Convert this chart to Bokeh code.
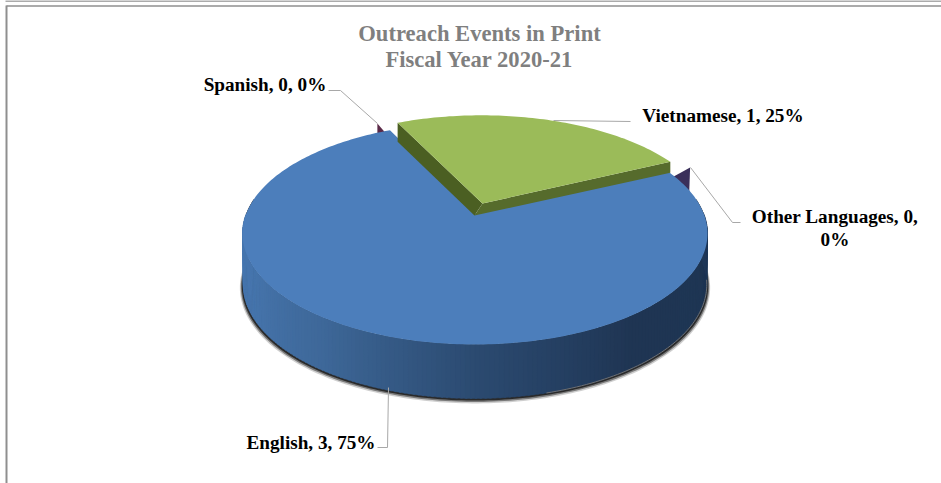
import numpy as np
from bokeh.core.properties import value
from bokeh.embed import file_html
from bokeh.models import Range1d
from bokeh.plotting import figure
from bokeh.resources import INLINE

# Chart content
title_lines = ["Outreach Events in Print", "Fiscal Year 2020-21"]
categories = ["English", "Spanish", "Vietnamese", "Other Languages"]
counts = [3, 0, 1, 0]

# Pie geometry: a disc in perspective, with top and bottom rims
CX = 474.5
TOP = dict(a=228.7, b=107.4, y0=213.0)
BOTTOM = dict(a=228.0, b=110.3, y0=263.5)
TILT = 0.18
START_DEG = 25.6    # the Vietnamese slice starts here, measured counter-clockwise
EXPLODE = 0.10
GREEN_R = 1.0

BLUE_TOP = "#4c7ebb"
GREEN_TOP = "#9bbb59"
FONT = value("Liberation Serif")


def project(u, v, rim=TOP):
    w = 1 + TILT * np.asarray(v)
    return CX + rim["a"] * np.asarray(u) / w, rim["y0"] - rim["b"] * np.asarray(v) / w


def polar(theta_deg, r=1.0, du=0.0, dv=0.0):
    t = np.radians(theta_deg)
    return du + r * np.cos(t), dv + r * np.sin(t)


def mix(c1, c2, f):
    a = [int(c1[i:i + 2], 16) for i in (1, 3, 5)]
    b = [int(c2[i:i + 2], 16) for i in (1, 3, 5)]
    return "#%02x%02x%02x" % tuple(round(x + (y - x) * f) for x, y in zip(a, b))


total = sum(counts)
share_deg = [c / total * 360 for c in counts]
percent = [round(c / total * 100) for c in counts]
labels = [f"{n}, {c}, {s}%" for n, c, s in zip(categories, counts, percent)]

# Slice angles follow the data: Vietnamese runs counter-clockwise from START_DEG
green_start = START_DEG
green_end = START_DEG + share_deg[2]
blue_start = green_end
blue_end = blue_start + share_deg[0]

p = figure(width=941, height=483, output_backend="svg", toolbar_location=None,
           x_range=Range1d(0, 941), y_range=Range1d(483, 0),
           min_border=0, outline_line_color=None, background_fill_color="white")
p.axis.visible = False
p.grid.visible = False

# Frame lines along the top and left
frame = "#8f8f8f"
p.line([5, 941], [0.5, 0.5], line_color=frame, line_width=1.5)
p.line([6, 941], [5.5, 5.5], line_color=frame, line_width=1.5)
p.line([6, 6], [5, 483], line_color=frame, line_width=2)

# Soft dark shadow hugging the lower edge of the disc
front = np.linspace(172, 368, 180)
for grow, drop, alpha in [(1.014, 2.6, 0.22), (1.010, 1.8, 0.5), (1.006, 1.0, 0.95)]:
    sx, sy = project(*polar(front, grow), BOTTOM)
    tx, ty = project(*polar(front[::-1]), TOP)
    p.patch(np.r_[sx, tx], np.r_[sy + drop, ty], fill_color="#262626", fill_alpha=alpha, line_color=None)

# Zero-share slices only show as dark slivers behind the blue top
tip_x, tip_y = project(*polar(green_start - 1.1, 1.12))
p.patch([tip_x, tip_x - 1, tip_x - 40], [tip_y, tip_y + 28, tip_y + 22], fill_color="#3a2f5a", line_color=None)
sp_x, sp_y = project(*polar(blue_start + 1.4, 1.107))
p.patch([sp_x, sp_x + 12, sp_x], [sp_y, sp_y + 14, sp_y + 16], fill_color="#5b2a48", line_color=None)

# Blue side wall, shaded in narrow strips from left to right
stops = [(180, "#4a7bb5"), (205, "#4675ad"), (235, "#3e6899"), (270, "#2b4a70"),
         (290, "#243e60"), (305, "#1f3553"), (340, "#1e3654"), (360, "#20395a")]
edges = np.linspace(180, 360, 181)
for t0, t1 in zip(edges[:-1], edges[1:]):
    for (a0, c0), (a1, c1) in zip(stops[:-1], stops[1:]):
        if a0 <= t0 < a1:
            colour = mix(c0, c1, (t0 - a0) / (a1 - a0))
            break
    seg = np.array([t0, t1 + 0.4])
    bx, by = project(*polar(seg), BOTTOM)
    tx, ty = project(*polar(seg), TOP)
    p.patch(np.r_[bx, tx[::-1]], np.r_[by, ty[::-1]], fill_color=colour, line_color=colour, line_width=0.4)

# Pale highlight along the wall's lower right edge
hx, hy = project(*polar(np.linspace(285, 352, 60)), BOTTOM)
p.line(hx, hy, line_color="#6d6f73", line_width=1)

# Blue top
arc = np.linspace(blue_start, blue_end, 300)
bx, by = project(*polar(arc))
ax, ay = project(0.0, 0.0)
p.patch(np.r_[ax, bx], np.r_[ay, by], fill_color=BLUE_TOP, line_color=None)

# Vietnamese slice, pulled out along its bisector
mid = (green_start + green_end) / 2
du, dv = polar(mid, EXPLODE)
apex_x, apex_y = project(du, dv)
g_arc = np.linspace(green_start, green_end, 80)
gx, gy = project(*polar(g_arc, GREEN_R, du, dv))
left_x, left_y = gx[-1], gy[-1]
right_x, right_y = gx[0], gy[0]

p.patch([left_x, left_x, apex_x - 8, apex_x], [left_y, left_y + 19, apex_y + 12, apex_y],
        fill_color="#4b5f22", line_color=None)
p.patch([right_x, right_x, apex_x - 8, apex_x], [right_y, right_y + 11, apex_y + 12, apex_y],
        fill_color="#566b2c", line_color=None)
p.patch(np.r_[apex_x, gx], np.r_[apex_y, gy], fill_color=GREEN_TOP, line_color=None)

# Leader lines
leader = "#a8a8a8"
p.line([328, 340, 377], [90, 90, 123], line_color=leader, line_width=1)
p.line([553, 630], [120, 121], line_color=leader, line_width=1)
p.line([690, 732, 740], [167, 222, 222], line_color=leader, line_width=1)
p.line([388, 387, 377], [387, 447, 447], line_color=leader, line_width=1)


def label(x, y, text, colour="#000000", size="19.2px", align="center"):
    p.text([x], [y], text=[text], text_font=FONT, text_font_size=size, text_font_style="bold",
           text_color=colour, text_align=align, text_baseline="middle")


# Title and slice labels
label(479, 33, title_lines[0], "#7f7f7f", "22.6px")
label(479, 59, title_lines[1], "#7f7f7f", "22.6px")
label(264.5, 84, labels[1])
label(722.5, 115, labels[2])
head, tail = labels[3].rsplit(" ", 1)
label(834.5, 216, head)
label(834.5, 239, tail)
label(310.5, 442, labels[0])

html = file_html(p, INLINE)
open("out.html", "w").write(html)
